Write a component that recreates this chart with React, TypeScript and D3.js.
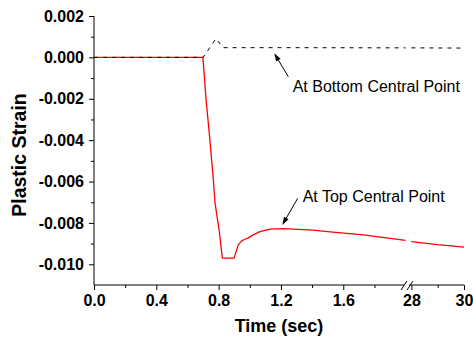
import { useRef, useEffect } from 'react';
import { select, scaleLinear, axisLeft, axisBottom, line } from 'd3';

// Top central point (red solid)
const topTime = [0, 0.699, 0.72, 0.74, 0.755, 0.766, 0.777, 0.79, 0.803, 0.824, 0.899, 0.926, 0.948, 0.969, 0.99, 1.022, 1.065, 1.13, 1.215, 1.408, 1.515, 1.729, 2.0, 28, 29, 30];
const topStrain = [0, 0, -0.0021, -0.00367, -0.00496, -0.00592, -0.00705, -0.0077, -0.00834, -0.0097, -0.0097, -0.00906, -0.00887, -0.00879, -0.00872, -0.00858, -0.00842, -0.0083, -0.00828, -0.00835, -0.00843, -0.00858, -0.00884, -0.0089, -0.00905, -0.00917];

// Bottom central point (black dashed)
const bottomTime = [0, 0.7, 0.783, 0.828, 1.2, 2.0, 28, 30];
const bottomStrain = [0, 0, 0.00091, 0.00047, 0.00047, 0.00046, 0.00046, 0.00045];

const yMajor = [0.002, 0, -0.002, -0.004, -0.006, -0.008, -0.01];
const yMinor = [0.001, -0.001, -0.003, -0.005, -0.007, -0.009];
const xMajorA = [0, 0.4, 0.8, 1.2, 1.6];
const xMinorA = [0.2, 0.6, 1.0, 1.4, 1.8];
const xMajorB = [28, 30];
const xMinorB = [29];

const W = 473;
const H = 343;
const FONT = "'Liberation Sans', Arial, sans-serif";

export default function App() {
  const svgRef = useRef<SVGSVGElement>(null);

  useEffect(() => {
    if (!svgRef.current) return;
    const svg = select(svgRef.current);
    svg.selectAll('*').remove();

    const y = scaleLinear().domain([-0.011, 0.002]).range([285, 16]);
    const xA = scaleLinear().domain([0, 2.0]).range([94, 405.6]);
    const xB = scaleLinear().domain([28, 30]).range([411.4, 464]);
    const xPos = (t: number) => (t <= 2.0 ? xA(t) : xB(t));

    const pts = (ts: number[], vs: number[]) => ts.map((t, i) => ({ t, v: vs[i] }));
    const topData = pts(topTime, topStrain);
    const botData = pts(bottomTime, bottomStrain);

    const path = line<{ t: number; v: number }>()
      .x((d) => xPos(d.t))
      .y((d) => y(d.v));

    // Red solid line, split at axis break
    [topData.filter((d) => d.t <= 2), topData.filter((d) => d.t >= 28)].forEach((seg) => {
      svg.append('path')
        .datum(seg)
        .attr('fill', 'none')
        .attr('stroke', '#ff0000')
        .attr('stroke-width', 1.3)
        .attr('stroke-linejoin', 'round')
        .attr('d', path);
    });

    // Black dashed line
    [botData.filter((d) => d.t <= 2), botData.filter((d) => d.t >= 28)].forEach((seg) => {
      svg.append('path')
        .datum(seg)
        .attr('fill', 'none')
        .attr('stroke', '#000')
        .attr('stroke-width', 1)
        .attr('stroke-dasharray', '4,5')
        .attr('d', path);
    });

    // Y axis
    const yAxis = svg.append('g')
      .attr('transform', 'translate(94,0)')
      .call(axisLeft(y).tickValues(yMajor).tickSize(5).tickPadding(5).tickFormat((d) => (d as number).toFixed(3)));
    yAxis.select('.domain').remove();
    yAxis.selectAll('text').attr('font-family', FONT).attr('font-size', 16).attr('font-weight', 'bold').attr('fill', '#000');
    const yAxisMinor = svg.append('g')
      .attr('transform', 'translate(94,0)')
      .call(axisLeft(y).tickValues(yMinor).tickSize(3).tickFormat(() => ''));
    yAxisMinor.select('.domain').remove();
    svg.append('line').attr('x1', 94).attr('x2', 94).attr('y1', 16).attr('y2', 285).attr('stroke', '#000');

    // X axis, two segments
    const drawX = (scale: any, major: number[], minor: number[], fmt: (d: number) => string) => {
      const g = svg.append('g')
        .attr('transform', 'translate(0,285)')
        .call(axisBottom(scale).tickValues(major).tickSize(5).tickPadding(5).tickFormat((d: any) => fmt(d)));
      g.select('.domain').remove();
      g.selectAll('text').attr('font-family', FONT).attr('font-size', 16).attr('font-weight', 'bold').attr('fill', '#000');
      const gm = svg.append('g')
        .attr('transform', 'translate(0,285)')
        .call(axisBottom(scale).tickValues(minor).tickSize(3).tickFormat(() => ''));
      gm.select('.domain').remove();
    };
    drawX(xA, xMajorA, xMinorA, (d) => d.toFixed(1));
    drawX(xB, xMajorB, xMinorB, (d) => String(d));
    svg.append('line').attr('x1', 94).attr('x2', 404).attr('y1', 285).attr('y2', 285).attr('stroke', '#000');
    svg.append('line').attr('x1', 409).attr('x2', 464).attr('y1', 285).attr('y2', 285).attr('stroke', '#000');

    // Break marks
    [[401, 407], [407, 413]].forEach(([a, b]) => {
      svg.append('line').attr('x1', a).attr('y1', 290).attr('x2', b).attr('y2', 281).attr('stroke', '#000').attr('stroke-width', 1);
    });

    // Axis titles
    svg.append('text')
      .attr('transform', 'translate(26,155) rotate(-90)')
      .attr('text-anchor', 'middle')
      .attr('font-family', FONT).attr('font-size', 19.5).attr('font-weight', 'bold')
      .text('Plastic Strain');
    svg.append('text')
      .attr('x', 279).attr('y', 332)
      .attr('text-anchor', 'middle')
      .attr('font-family', FONT).attr('font-size', 18).attr('font-weight', 'bold')
      .text('Time (sec)');

    // Annotations
    const arrow = (x1: number, y1: number, x2: number, y2: number) => {
      const ang = Math.atan2(y2 - y1, x2 - x1);
      const len = 8;
      const hw = 2.6;
      const bx = x2 - len * Math.cos(ang);
      const by = y2 - len * Math.sin(ang);
      svg.append('line').attr('x1', x1).attr('y1', y1).attr('x2', bx).attr('y2', by).attr('stroke', '#000').attr('stroke-width', 1);
      const px = -Math.sin(ang) * hw;
      const py = Math.cos(ang) * hw;
      svg.append('path')
        .attr('d', `M${x2},${y2}L${bx + px},${by + py}L${bx - px},${by - py}Z`)
        .attr('fill', '#000');
    };
    arrow(288.3, 76.7, 274.3, 53.3);
    arrow(297.7, 198.3, 282.3, 225);

    svg.append('text').attr('x', 292.7).attr('y', 92)
      .attr('font-family', FONT).attr('font-size', 16)
      .text('At Bottom Central Point');
    svg.append('text').attr('x', 302.7).attr('y', 201.7)
      .attr('font-family', FONT).attr('font-size', 16)
      .text('At Top Central Point');
  }, []);

  return (
    <svg
      ref={svgRef}
      width={W}
      height={H}
      style={{ position: 'absolute', left: 0, top: 0, background: '#fff' }}
    />
  );
}
